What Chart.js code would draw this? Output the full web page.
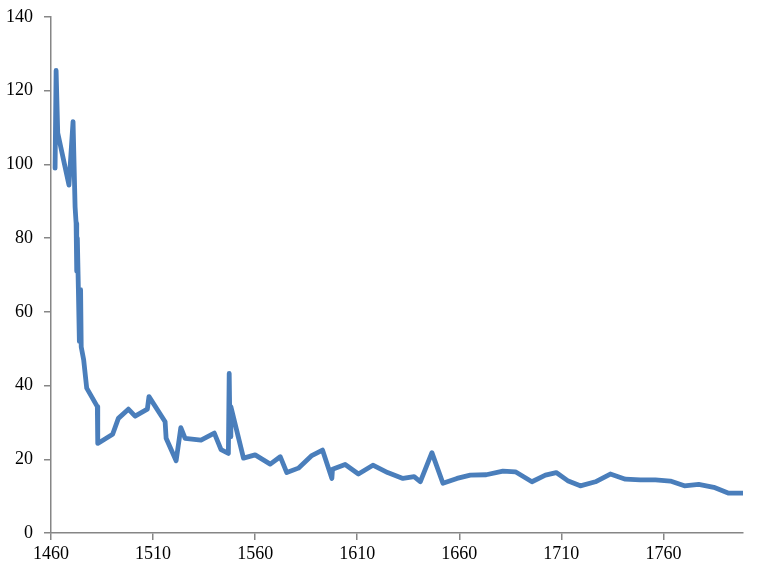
<!DOCTYPE html>
<html>
<head>
<meta charset="utf-8">
<script src="https://cdn.jsdelivr.net/npm/chart.js@4.4.1/dist/chart.umd.min.js"></script>
<style>
  html, body { margin: 0; padding: 0; background: #fff; }
  #wrap { width: 776px; height: 575px; }
</style>
</head>
<body>
<div id="wrap"><canvas id="myChart" width="776" height="575"></canvas></div>
<script>
// years and values
var years = [1462, 1462.5, 1463.3, 1468.8, 1470.8, 1471.8, 1472.3, 1472.6, 1472.9, 1473.4,
  1473.9, 1474.5, 1474.8, 1476, 1477.5, 1482.7, 1482.9, 1490.2, 1493, 1497.9, 1501.2,
  1507.2, 1508, 1515.9, 1516.4, 1521.3, 1523.6, 1525.7, 1533.5, 1540, 1543.3,
  1546.9, 1547.3, 1547.7, 1548.1, 1554.3, 1560, 1567.4, 1572.3, 1575.5, 1581.2,
  1587.5, 1593, 1597.6, 1597.9, 1604.1, 1610.6, 1617.7, 1624.9, 1632.4, 1637.9,
  1640.9, 1646.6, 1652, 1658.9, 1665.4, 1673.2, 1681.4, 1687.5, 1695.6, 1702.2,
  1707.5, 1713.1, 1719.3, 1726.7, 1734, 1741.4, 1748.7, 1756.1, 1763.4, 1770.3,
  1777.3, 1784.7, 1792, 1799];
var values = [99, 125.5, 108.5, 94.4, 111.6, 88.5, 84, 71, 80, 66.5,
  52, 66, 50.5, 47, 39.3, 34.3, 24.3, 26.8, 31.1, 33.6, 31.7,
  33.6, 37, 30.2, 25.7, 19.6, 28.6, 25.7, 25.2, 27.1, 22.6,
  21.6, 43.3, 26.1, 34.3, 20.3, 21.2, 18.7, 20.7, 16.4, 17.6,
  20.9, 22.5, 14.8, 17.3, 18.6, 16, 18.4, 16.4, 14.8, 15.3,
  13.9, 21.8, 13.5, 14.8, 15.7, 15.8, 16.8, 16.6, 13.9, 15.7,
  16.4, 14.2, 12.8, 13.9, 16, 14.6, 14.4, 14.4, 14.1, 12.8,
  13.2, 12.4, 10.8, 10.8];
var xTicks = [1460, 1510, 1560, 1610, 1660, 1710, 1760];
var yTicks = [0, 20, 40, 60, 80, 100, 120, 140];

var points = years.map(function (y, i) { return { x: y, y: values[i] }; });

var axisGray = "#868686";
var tickFont = { family: "'Liberation Serif', 'Times New Roman', serif", size: 18 };

var ctx = document.getElementById("myChart").getContext("2d");
var chart = new Chart(ctx, {
  type: "line",
  data: {
    datasets: [{
      data: points,
      borderColor: "#4a7ebb",
      borderWidth: 4.8,
      pointRadius: 0,
      tension: 0,
      borderJoinStyle: "round",
      borderCapStyle: "round",
      fill: false
    }]
  },
  options: {
    responsive: false,
    animation: false,
    layout: { padding: { top: 17, right: 33, left: 0, bottom: 0 } },
    plugins: { legend: { display: false }, tooltip: { enabled: false } },
    scales: {
      x: {
        type: "linear",
        min: 1460,
        max: 1799,
        afterBuildTicks: function (scale) {
          scale.ticks = xTicks.map(function (v) { return { value: v }; });
        },
        afterFit: function (scale) {
          scale.height = 42;
          scale.paddingLeft = 0;
          scale.paddingRight = 0;
        },
        grid: { display: true, drawOnChartArea: false, drawTicks: true, tickLength: 7, color: axisGray, lineWidth: 1.5 },
        border: { display: true, color: axisGray, width: 1.5 },
        ticks: { color: "#000", font: tickFont, padding: 3, maxRotation: 0, autoSkip: false,
          callback: function (v) { return String(v); } }
      },
      y: {
        min: 0,
        max: 140,
        afterBuildTicks: function (scale) {
          scale.ticks = yTicks.map(function (v) { return { value: v }; });
        },
        afterFit: function (scale) {
          scale.width = 51;
          scale.paddingTop = 0;
          scale.paddingBottom = 0;
        },
        grid: { display: true, drawOnChartArea: false, drawTicks: true, tickLength: 7, color: axisGray, lineWidth: 1.5 },
        border: { display: true, color: axisGray, width: 1.5 },
        ticks: { color: "#000", font: tickFont, padding: 11 }
      }
    }
  }
});
</script>
</body>
</html>
